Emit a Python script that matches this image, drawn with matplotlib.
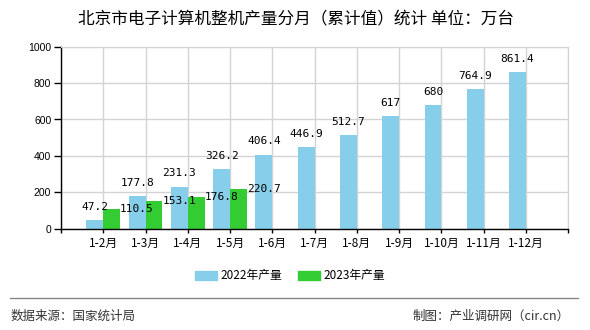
import matplotlib
matplotlib.use("Agg")
import matplotlib.pyplot as plt
from matplotlib.lines import Line2D
from matplotlib.patches import Patch

plt.rcParams['font.family'] = ['Noto Sans CJK SC', 'DejaVu Sans']

months = ['1-2月', '1-3月', '1-4月', '1-5月', '1-6月', '1-7月', '1-8月',
          '1-9月', '1-10月', '1-11月', '1-12月']
output_2022 = [47.2, 177.8, 231.3, 326.2, 406.4, 446.9, 512.7, 617, 680, 764.9, 861.4]
output_2023 = [110.5, 153.1, 176.8, 220.7]
value_labels_2022 = ['47.2', '177.8', '231.3', '326.2', '406.4', '446.9', '512.7',
                     '617', '680', '764.9', '861.4']
value_labels_2023 = ['110.5', '153.1', '176.8', '220.7']

blue = '#87CEEB'
green = '#33CC33'
W, H = 590, 330

fig = plt.figure(figsize=(W / 100, H / 100), dpi=100)
ax = fig.add_axes([61 / W, 1 - 228.7 / H, (568.3 - 61) / W, (228.7 - 46.7) / H])

pos = list(range(1, len(months) + 1))
bw = 0.4
x22 = [p - bw / 2 for p in pos]
x23 = [p + bw / 2 for p in pos[:len(output_2023)]]
ax.bar(x22, output_2022, width=bw, color=blue, zorder=2)
ax.bar(x23, output_2023, width=bw, color=green, zorder=2)

# value labels: 2022 centred above bars, 2023 to the right of the bar top
for x, v, s in zip(x22, output_2022, value_labels_2022):
    ax.annotate(s, (x, v), xytext=(0, 6), textcoords='offset points',
                ha='center', va='bottom', fontsize=8, family='DejaVu Sans Mono', zorder=3)
for x, v, s in zip(x23, output_2023, value_labels_2023):
    ax.annotate(s, (x + bw / 2, v), xytext=(0, 0), textcoords='offset points',
                ha='left', va='center', fontsize=8, family='DejaVu Sans Mono', zorder=3)

ax.set_xlim(0, len(months) + 1)
ax.set_ylim(0, 1000)
ax.set_xticks(range(0, len(months) + 2))
ax.set_xticklabels([''] + months + [''], fontsize=8.5)
ax.set_yticks(range(0, 1001, 200))
ax.set_yticklabels([str(v) for v in range(0, 1001, 200)], fontsize=7.5, family='Liberation Sans')
ax.tick_params(axis='x', length=3, width=1, pad=3, color='black')
ax.tick_params(axis='y', length=5, width=1, pad=2, color='black')
ax.grid(True, color='#D3D3D3', linewidth=1, zorder=0)
ax.set_axisbelow(True)
for side in ['top', 'right']:
    ax.spines[side].set_color('#D3D3D3')
for side in ['left', 'bottom']:
    ax.spines[side].set_color('black')
    ax.spines[side].set_linewidth(1)

fig.text(296 / W, 1 - 20 / H, '北京市电子计算机整机产量分月（累计值）统计 单位：万台',
         ha='center', va='center', fontsize=12)

handles = [Patch(color=blue, label='2022年产量'), Patch(color=green, label='2023年产量')]
fig.legend(handles=handles, loc='center', bbox_to_anchor=(290 / W, 1 - 276 / H), ncol=2,
           frameon=False, fontsize=8.5, handlelength=1.9, handleheight=0.75,
           handletextpad=0.3, columnspacing=1.3)

fig.add_artist(Line2D([10 / W, 578 / W], [1 - 298.3 / H] * 2, color='#888888', linewidth=1))
fig.text(11 / W, 1 - 316.7 / H, '数据来源：国家统计局', ha='left', va='center', fontsize=9, color='#333333')
fig.text(570 / W, 1 - 316.7 / H, '制图：产业调研网（cir.cn）', ha='right', va='center', fontsize=9, color='#333333')

fig.savefig('out.png', dpi=100)
